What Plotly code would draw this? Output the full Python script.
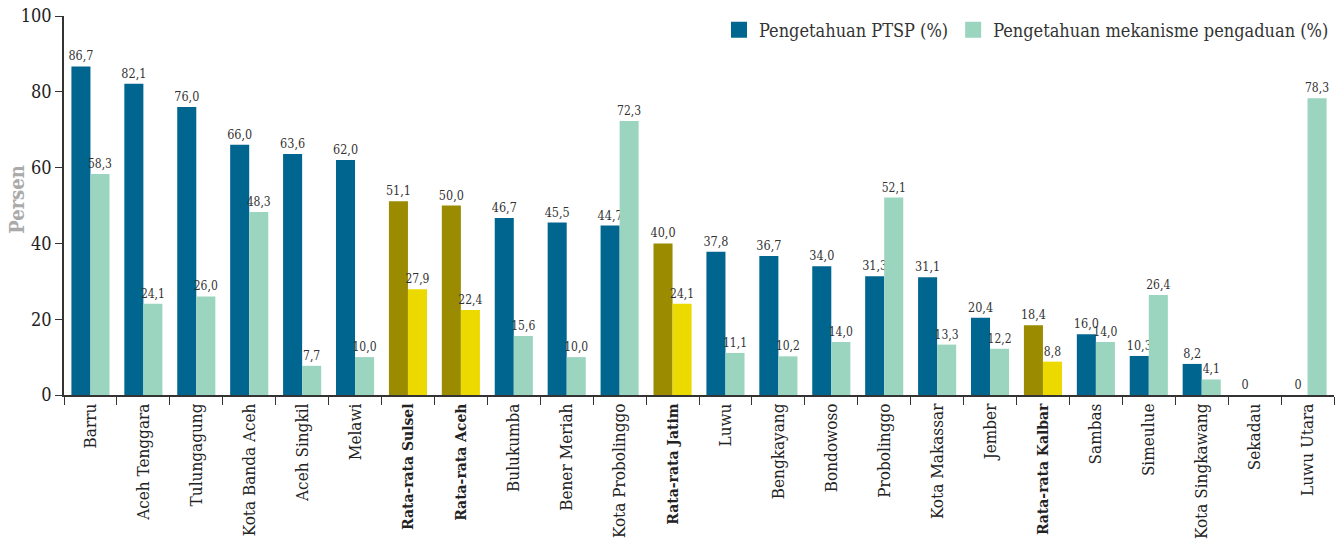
import plotly.graph_objects as go

categories = ["Barru", "Aceh Tenggara", "Tulungagung", "Kota Banda Aceh", "Aceh Singkil", "Melawi",
              "Rata-rata Sulsel", "Rata-rata Aceh", "Bulukumba", "Bener Meriah", "Kota Probolinggo",
              "Rata-rata Jatim", "Luwu", "Bengkayang", "Bondowoso", "Probolinggo", "Kota Makassar",
              "Jember", "Rata-rata Kalbar", "Sambas", "Simeulue", "Kota Singkawang", "Sekadau", "Luwu Utara"]
ptsp = [86.7, 82.1, 76.0, 66.0, 63.6, 62.0, 51.1, 50.0, 46.7, 45.5, 44.7, 40.0, 37.8, 36.7, 34.0,
        31.3, 31.1, 20.4, 18.4, 16.0, 10.3, 8.2, 0, 0]
pengaduan = [58.3, 24.1, 26.0, 48.3, 7.7, 10.0, 27.9, 22.4, 15.6, 10.0, 72.3, 24.1, 11.1, 10.2, 14.0,
             52.1, 13.3, 12.2, 8.8, 14.0, 26.4, 4.1, None, 78.3]
series_names = ["Pengetahuan PTSP (%)", "Pengetahuan mekanisme pengaduan (%)"]
y_ticks = [0, 20, 40, 60, 80, 100]
y_title = "Persen"

C_DARK, C_LIGHT = "#00668f", "#9bd5c0"
C_OLIVE, C_YELLOW = "#9a8b00", "#ecd900"
FONT = "DejaVu Serif Condensed, DejaVu Serif, serif"


def fmt(v):
    if v is None:
        return ""
    if v == 0:
        return "0"
    return f"{v:.1f}".replace(".", ",")


is_avg = [c.startswith("Rata-rata") for c in categories]
ticktext = [f"<b><span style='font-size:15.5px'>{c}</span></b>" if a else c
            for c, a in zip(categories, is_avg)]

fig = go.Figure()
fig.add_trace(go.Bar(
    x=categories, y=ptsp, name=series_names[0], showlegend=False,
    marker=dict(color=[C_OLIVE if a else C_DARK for a in is_avg], line_width=0),
    text=[fmt(v) for v in ptsp], textposition="outside", cliponaxis=False, constraintext="none",
    textfont=dict(family=FONT, size=12.5, color="#333333"),
))
fig.add_trace(go.Bar(
    x=categories, y=pengaduan, name=series_names[1], showlegend=False,
    marker=dict(color=[C_YELLOW if a else C_LIGHT for a in is_avg], line_width=0),
    text=[fmt(v) for v in pengaduan], textposition="outside", cliponaxis=False, constraintext="none",
    textfont=dict(family=FONT, size=12, color="#333333"),
))
# legend entries
for name, col in zip(series_names, [C_DARK, C_LIGHT]):
    fig.add_trace(go.Scatter(x=[None], y=[None], mode="markers", name=name,
                             marker=dict(symbol="square", size=20, color=col)))

fig.add_annotation(text=f"<b>{y_title}</b>", xref="paper", yref="paper", x=0, y=0.515,
                   xshift=-47, xanchor="center", yanchor="middle", textangle=-90, showarrow=False,
                   font=dict(family=FONT, size=20, color="#aaaaaa"))

fig.update_layout(
    width=1341, height=547,
    margin=dict(l=64, r=7, t=16, b=152, autoexpand=False),
    plot_bgcolor="white", paper_bgcolor="white",
    barmode="group", bargap=0.28, bargroupgap=0,
    font=dict(family=FONT, size=17, color="#333333"),
    legend=dict(orientation="h", x=1.0, xanchor="right", y=0.963, yanchor="middle",
                font=dict(size=18, color="#333333"), itemsizing="trace",
                bgcolor="rgba(0,0,0,0)", traceorder="normal"),
    xaxis=dict(
        tickmode="array", tickvals=categories, ticktext=ticktext, tickangle=-90,
        tickson="boundaries", ticks="outside", ticklen=8, tickcolor="#333333",
        showline=True, linecolor="#333333", linewidth=1.5, showgrid=False, automargin=False,
        tickfont=dict(size=17, color="#222222"), range=[-0.5, len(categories) - 0.5],
        ticklabeloverflow="allow",
    ),
    yaxis=dict(
        range=[0, 100], tickvals=y_ticks, ticks="outside", ticklen=7, tickcolor="#333333",
        showline=True, linecolor="#333333", linewidth=1.5, showgrid=False, zeroline=False,
        tickfont=dict(size=18, color="#222222"), automargin=False, ticklabeloverflow="allow",
    ),
)

fig.write_html("out.html", config={"displayModeBar": False},
               post_script="document.body.style.margin='0';")
